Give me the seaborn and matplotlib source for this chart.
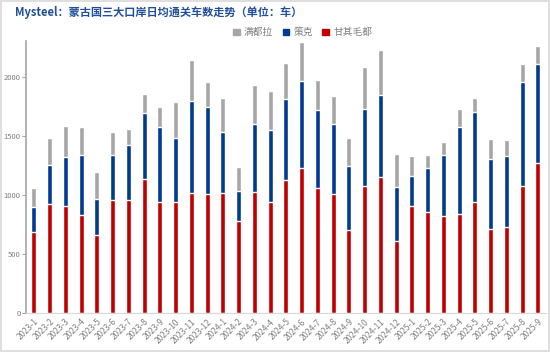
import pandas as pd
import numpy as np
import matplotlib

matplotlib.use("Agg")
import matplotlib.pyplot as plt
import seaborn as sns
from matplotlib.patches import Rectangle, Patch

# ===================== 数据 =====================
months = ["2023-1", "2023-2", "2023-3", "2023-4", "2023-5", "2023-6", "2023-7", "2023-8",
          "2023-9", "2023-10", "2023-11", "2023-12", "2024-1", "2024-2", "2024-3", "2024-4",
          "2024-5", "2024-6", "2024-7", "2024-8", "2024-9", "2024-10", "2024-11", "2024-12",
          "2025-1", "2025-2", "2025-3", "2025-4", "2025-5", "2025-6", "2025-7", "2025-8", "2025-9"]
# 甘其毛都
ganqimaodu = [689, 921, 909, 828, 658, 963, 963, 1141, 938, 946, 1020, 1006, 1020, 777, 1025, 938,
              1133, 1235, 1059, 1006, 703, 1079, 1155, 613, 907, 856, 822, 842, 946, 709, 726, 1074, 1277]
# 策克
ceke = [212, 339, 413, 511, 311, 376, 461, 554, 638, 537, 780, 746, 514, 257, 577, 619,
        681, 737, 667, 602, 543, 653, 693, 458, 260, 373, 517, 734, 763, 602, 610, 886, 833]
# 满都拉
mandula = [156, 226, 265, 240, 232, 201, 141, 161, 176, 305, 347, 212, 294, 206, 330, 327,
           311, 333, 249, 237, 243, 353, 389, 282, 166, 116, 113, 159, 119, 166, 136, 150, 153]

df = pd.DataFrame({"month": months, "甘其毛都": ganqimaodu, "策克": ceke, "满都拉": mandula})
df["策克_cum"] = df["甘其毛都"] + df["策克"]
df["满都拉_cum"] = df["策克_cum"] + df["满都拉"]

red = "#C00000"
blue = "#003B8E"
gray = "#A6A6A6"
text_gray = "#7F7F7F"

# ===================== 绘图 =====================
sns.set_style("white")
plt.rcParams['font.family'] = ['Noto Sans CJK SC', 'DejaVu Sans']

fig = plt.figure(figsize=(5.5, 3.52), dpi=100)
ax = fig.add_axes([0.0473, 0.111, 0.945, 0.7727])

bw = 0.33
sns.barplot(data=df, x="month", y="满都拉_cum", color=gray, width=bw, saturation=1, ax=ax)
sns.barplot(data=df, x="month", y="策克_cum", color=blue, width=bw, saturation=1, ax=ax)
sns.barplot(data=df, x="month", y="甘其毛都", color=red, width=bw, saturation=1, ax=ax)

ax.set_xlim(-0.5, len(months) - 0.5)
ax.set_ylim(0, 2310)
ax.set_yticks([0, 500, 1000, 1500, 2000])
ax.set_xlabel("")
ax.set_ylabel("")

for s in ["top", "right"]:
    ax.spines[s].set_visible(False)
ax.spines["left"].set_color("#A6A6A6")
ax.spines["bottom"].set_color("#D9D9D9")
ax.spines["left"].set_linewidth(1.2)

ax.tick_params(axis="y", labelsize=5.5, labelcolor=text_gray, length=3, color="#A6A6A6",
               direction="out", pad=1, left=True)
ax.set_xticks(np.arange(len(months)))
ax.set_xticklabels(months, rotation=45, ha="right", rotation_mode="anchor",
                   fontsize=6, color=text_gray)
ax.tick_params(axis="x", length=0, pad=3)
# 类别之间的小刻度
ax.set_xticks(np.arange(len(months) + 1) - 0.5, minor=True)
ax.tick_params(axis="x", which="minor", length=3, color="#D9D9D9", direction="out")

# 标题
fig.text(0.027, 0.965, "Mysteel：蒙古国三大口岸日均通关车数走势（单位：车）",
         fontsize=8, fontweight="bold", color="#1F4E9A", va="center", ha="left")

# 图例
handles = [Patch(color=gray, label="满都拉"), Patch(color=blue, label="策克"),
           Patch(color=red, label="甘其毛都")]
leg = fig.legend(handles=handles, loc="center", bbox_to_anchor=(0.55, 0.908), ncol=3,
                 frameon=False, fontsize=7, handlelength=0.7, handleheight=0.7,
                 handletextpad=0.4, columnspacing=1.0)
for t in leg.get_texts():
    t.set_color(text_gray)

# 外框
fig.patches.append(Rectangle((0.002, 0.004), 0.996, 0.992, transform=fig.transFigure,
                             fill=False, edgecolor="#D9D9D9", linewidth=1.2))

fig.savefig("out.png", dpi=100)
plt.close()
